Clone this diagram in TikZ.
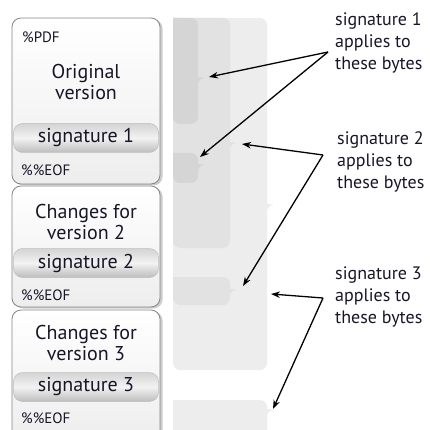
\documentclass[tikz,border=0pt]{standalone}
\usepackage{fontspec}
\setmainfont{PT Sans}
\usetikzlibrary{arrows.meta,shadows}
\definecolor{txt}{HTML}{161628}
\definecolor{grA}{HTML}{D5D5D5}
\definecolor{grB}{HTML}{E2E2E2}
\definecolor{grC}{HTML}{EDEDED}
\definecolor{boxline}{HTML}{858585}
\tikzset{
  vbox/.style={draw=boxline, line width=0.8pt, rounded corners=9pt, minimum width=148pt,
    top color=white, bottom color=black!7,
    drop shadow={shadow xshift=2.5pt, shadow yshift=-1.5pt, opacity=0.4}},
  pill/.style={draw=black!25, line width=0.5pt, rounded corners=9pt, minimum width=145pt, minimum height=29pt,
    top color=black!17, bottom color=black!26, middle color=black!5,
    font=\fontsize{20}{21}\selectfont, text=txt},
  small/.style={font=\fontsize{15}{16}\selectfont, text=txt, anchor=west, inner sep=0pt},
  big/.style={font=\fontsize{20}{21}\selectfont, text=txt, align=center, inner sep=0pt},
  lab/.style={font=\fontsize{18}{22}\selectfont, text=txt, align=left, anchor=west, inner sep=0pt},
  arr/.style={-{Stealth[length=9pt,width=6.5pt]}, line width=1.3pt, black},
}
\begin{document}
\begin{tikzpicture}[x=1pt,y=-1pt]
\useasboundingbox (0,0) rectangle (430,430);
\clip (0,0) rectangle (430,430);
% byte range brackets
\newcommand\bytebrace[5]{% color, right, top, bottom, tip
  \fill[#1] (173,#3) [rounded corners=7pt] -- (#2,#3) -- (#2,#5-7) [sharp corners]
    .. controls (#2,#5-2) and (#2+3,#5-0.5) .. (#2+7,#5)
    .. controls (#2+3,#5+0.5) and (#2,#5+2) .. (#2,#5+7) [rounded corners=7pt]
    -- (#2,#4) -- (173,#4) [sharp corners] -- cycle;}
\bytebrace{grC}{267}{18}{370}{205}
\bytebrace{grC}{267}{400}{445}{410}
\bytebrace{grB}{230}{18}{248}{143}
\bytebrace{grB}{230}{277}{305}{290}
\bytebrace{grA}{198}{18}{124}{78}
\bytebrace{grA}{198}{153}{183}{165}
% version boxes
\node[vbox, minimum height=166pt] (box1) at (86,101) {};
\node[vbox, minimum height=121pt] (box2) at (86,246.5) {};
\node[vbox, minimum height=132pt] (box3) at (86,376) {};
\node[small] (pdf) at (22,37) {\%PDF};
\node[big] (orig) at (86,82) {Original\\version};
\node[pill] (sig1) at (86,138) {signature 1};
\node[small] (eof1) at (21,170) {\%\%EOF};
\node[big] (ch2) at (86,222) {Changes for\\version 2};
\node[pill] (sig2) at (86,263) {signature 2};
\node[small] (eof2) at (21,295) {\%\%EOF};
\node[big] (ch3) at (86,343) {Changes for\\version 3};
\node[pill] (sig3) at (86,387) {signature 3};
\node[small] (eof3) at (21,418) {\%\%EOF};
% labels
\node[lab] (l1) at (335,43) {signature 1\\applies to\\these bytes};
\node[lab] (l2) at (337,162) {signature 2\\applies to\\these bytes};
\node[lab] (l3) at (335,297) {signature 3\\applies to\\these bytes};
\coordinate (s1) at (328,52);
\coordinate (s2) at (323,155);
\coordinate (s3) at (323,298);
\coordinate (t1a) at (209,77);
\coordinate (t1b) at (200,157);
\coordinate (t2a) at (242,144);
\coordinate (t2b) at (243,286);
\coordinate (t3a) at (271,294);
\coordinate (t3b) at (273,409);
\draw[arr] (s1) -- (t1a);
\draw[arr] (s1) -- (t1b);
\draw[arr] (s2) -- (t2a);
\draw[arr] (s2) -- (t2b);
\draw[arr] (s3) -- (t3a);
\draw[arr] (s3) -- (t3b);
\end{tikzpicture}
\end{document}
